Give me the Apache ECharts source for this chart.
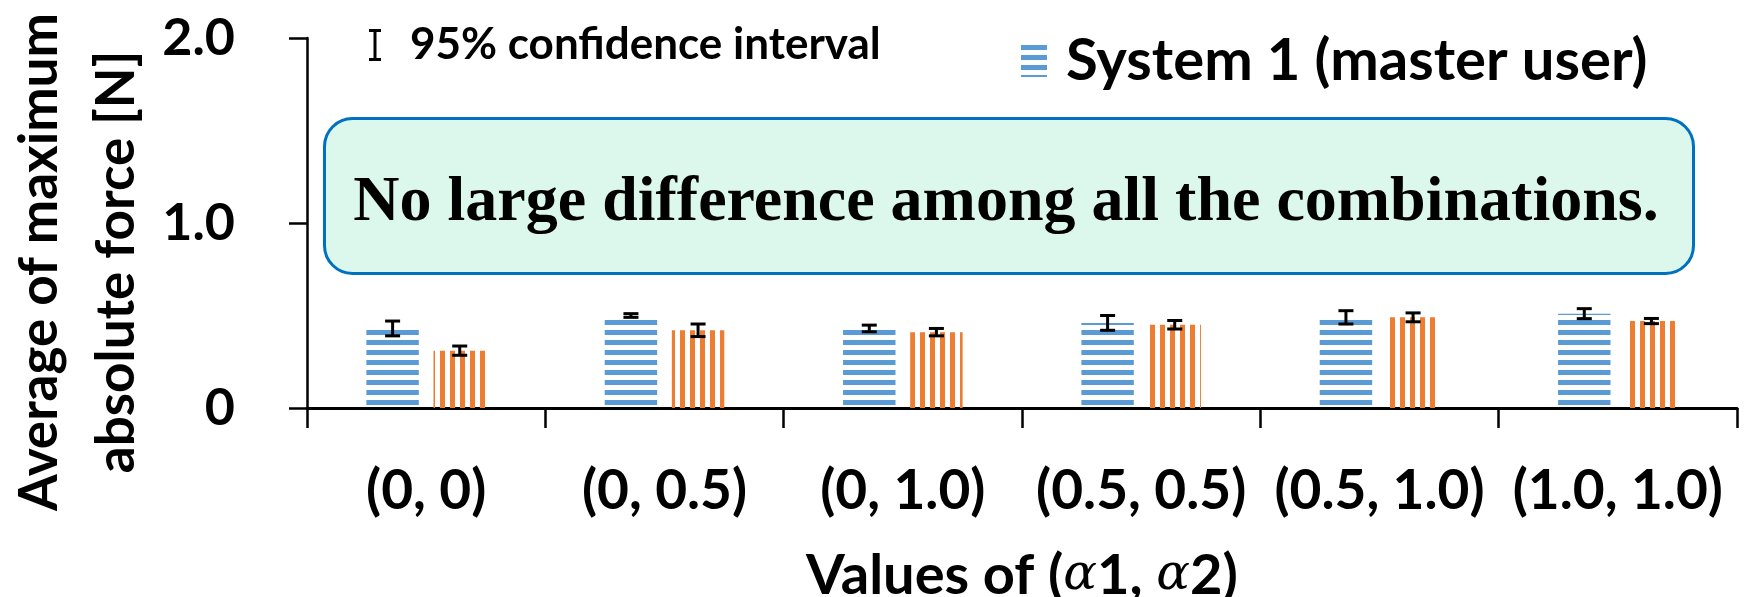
<!DOCTYPE html>
<html>
<head>
<meta charset="utf-8">
<script src="https://cdn.jsdelivr.net/npm/echarts@6/dist/echarts.min.js"></script>
<style>
html,body{margin:0;padding:0;background:#fff;}
#chart{width:1748px;height:597px;}
</style>
</head>
<body>
<div id="chart"></div>
<script>
// ---- data ----
const categories = ['(0, 0)', '(0, 0.5)', '(0, 1.0)', '(0.5, 0.5)', '(0.5, 1.0)', '(1.0, 1.0)'];
const system1Mean = [0.43, 0.50, 0.43, 0.46, 0.49, 0.51];
const system1CI   = [0.040, 0.010, 0.018, 0.040, 0.036, 0.027];
const system2Mean = [0.31, 0.42, 0.41, 0.45, 0.49, 0.47];
const system2CI   = [0.025, 0.034, 0.020, 0.023, 0.024, 0.014];
const yTickValues = [0, 1, 2];
const yTickLabels = ['0', '1.0', '2.0'];
const seriesNames = ['System 1 (master user)', 'System 2'];
const ciName = '95% confidence interval';
const yTitle = 'Average of maximum\nabsolute force [N]';
const noteText = 'No large difference among all the combinations.';

// ---- patterns ----
function stripePattern(color, horizontal) {
  const c = document.createElement('canvas');
  c.width = 10; c.height = 10;
  const g = c.getContext('2d');
  g.fillStyle = color;
  if (horizontal) g.fillRect(0, 0, 10, 5); else g.fillRect(0, 0, 5, 10);
  return { image: c, repeat: 'repeat' };
}
const bluePattern = stripePattern('#5b9bd5', true);
const orangePattern = stripePattern('#ed7d31', false);

const BAR_W = 0.22, BAR_GAP = 0.28;
function errRender(sign) {
  return function (params, api) {
    const x = api.value(0);
    const lo = api.coord([x, api.value(2)]);
    const hi = api.coord([x, api.value(3)]);
    const band = api.size([1, 0])[0];
    const bw = band * BAR_W;
    const cx = lo[0] + sign * bw * (1 + BAR_GAP) / 2;
    const cap = 7.5;
    const st = { stroke: '#000', lineWidth: 3 };
    return {
      type: 'group',
      children: [
        { type: 'line', shape: { x1: cx, y1: lo[1], x2: cx, y2: hi[1] }, style: st },
        { type: 'line', shape: { x1: cx - cap, y1: lo[1], x2: cx + cap, y2: lo[1] }, style: st },
        { type: 'line', shape: { x1: cx - cap, y1: hi[1], x2: cx + cap, y2: hi[1] }, style: st }
      ]
    };
  };
}
const errData1 = system1Mean.map((m, i) => [i, m, m - system1CI[i], m + system1CI[i]]);
const errData2 = system2Mean.map((m, i) => [i, m, m - system2CI[i], m + system2CI[i]]);

const chart = echarts.init(document.getElementById('chart'));
const FONT = 'Lato, "Open Sans", sans-serif';
chart.setOption({
  animation: false,
  backgroundColor: '#fff',
  grid: { left: 307, right: 11, top: 38, bottom: 189, containLabel: false, outerBoundsMode: 'none' },
  legend: [
    {
      data: [ciName], left: 369, top: 23, itemWidth: 16, itemHeight: 32, padding: 0,
      icon: 'path://M0,0H12V3H7.5V29H12V32H0V29H4.5V3H0Z',
      textStyle: { fontFamily: FONT, fontWeight: 'bold', fontSize: 44, color: '#000', padding: [0, 0, 0, 22] }
    },
    {
      data: [seriesNames[0]], left: 1021, top: 32, itemWidth: 26, itemHeight: 32, padding: 0,
      icon: 'rect',
      textStyle: { fontFamily: FONT, fontWeight: 'bold', fontSize: 58, color: '#000', padding: [0, 0, 0, 14] }
    }
  ],
  xAxis: {
    type: 'category',
    data: categories,
    axisLine: { lineStyle: { color: '#000', width: 3 } },
    axisTick: { show: true, length: 20, lineStyle: { color: '#000', width: 2.5 } },
    axisLabel: { fontFamily: FONT, fontWeight: 'bold', fontSize: 55, color: '#000', margin: 56, interval: 0 },
    name: '{a|Values of (}{i|α}{a|1, }{i|α}{a|2)}',
    nameLocation: 'middle',
    nameGap: 140,
    nameTextStyle: {
      rich: {
        a: { fontFamily: FONT, fontWeight: 'bold', fontSize: 56, color: '#000' },
        i: { fontFamily: '"DejaVu Serif", serif', fontStyle: 'italic', fontSize: 50, color: '#000' }
      }
    }
  },
  yAxis: {
    type: 'value', min: 0, max: 2, interval: 1,
    axisLine: { show: true, lineStyle: { color: '#000', width: 2.5 } },
    axisTick: { show: true, length: 18, lineStyle: { color: '#000', width: 2.5 } },
    splitLine: { show: false },
    axisLabel: {
      fontFamily: FONT, fontWeight: 'bold', fontSize: 52, color: '#000', margin: 72,
      formatter: function (v) { const i = yTickValues.indexOf(v); return i >= 0 ? yTickLabels[i] : ''; }
    }
  },
  series: [
    {
      name: seriesNames[0], type: 'bar', data: system1Mean,
      barWidth: (BAR_W * 100) + '%', barGap: (BAR_GAP * 100) + '%',
      itemStyle: { color: bluePattern }
    },
    {
      name: seriesNames[1], type: 'bar', data: system2Mean,
      barWidth: (BAR_W * 100) + '%', barGap: (BAR_GAP * 100) + '%',
      itemStyle: { color: orangePattern }
    },
    {
      name: ciName, type: 'custom', renderItem: errRender(-1), data: errData1,
      itemStyle: { color: '#000' }, z: 10, encode: { x: 0, y: [2, 3] }
    },
    {
      name: ciName, type: 'custom', renderItem: errRender(1), data: errData2,
      itemStyle: { color: '#000' }, z: 10, encode: { x: 0, y: [2, 3] }
    }
  ],
  graphic: [
    {
      type: 'text', x: 78, y: 262, rotation: Math.PI / 2, z: 5,
      style: {
        text: yTitle, fill: '#000',
        font: 'bold 53px Lato, "Open Sans", sans-serif',
        lineHeight: 77, textAlign: 'center', textVerticalAlign: 'middle'
      }
    },
    {
      type: 'rect', left: 323, top: 117, z: 20,
      shape: { width: 1369, height: 155, r: 28 },
      style: { fill: '#dcf8ed', stroke: '#0070c0', lineWidth: 3 }
    },
    {
      type: 'text', x: 1006, y: 203, z: 21,
      style: {
        text: noteText, fill: '#000',
        font: 'bold 64px "Liberation Serif", "Times New Roman", serif',
        textAlign: 'center', textVerticalAlign: 'middle'
      }
    }
  ]
});
</script>
</body>
</html>
